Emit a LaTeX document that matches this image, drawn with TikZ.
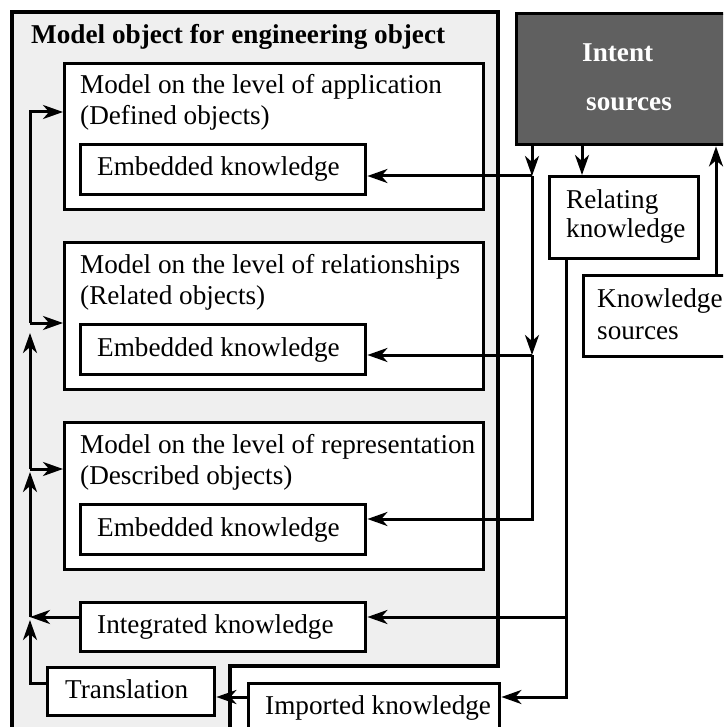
\documentclass[tikz,border=0pt]{standalone}
\usepackage{fontspec}
\setmainfont{Liberation Serif}
\usetikzlibrary{arrows.meta}
\definecolor{panelgray}{HTML}{EFEFEF}
\definecolor{sourcegray}{HTML}{606060}
\begin{document}
\begin{tikzpicture}[x=1pt,y=-1pt,
  box/.style={draw=black, line width=3.4pt, fill=white, inner sep=0pt, anchor=north west},
  txt/.style={anchor=base west, inner sep=0pt, font=\fontsize{27.2}{31}\selectfont},
  boldtxt/.style={txt, font=\fontsize{27.2}{31}\selectfont\bfseries},
  conn/.style={line width=3pt, line join=miter},
  arr/.style={conn, -{Stealth[length=20pt,width=14pt,inset=6pt]}}
]
\useasboundingbox (0,0) rectangle (723,727);
\clip (0,0) rectangle (723,727);

% outer panel holding the model levels
\draw[line width=3.4pt, fill=panelgray] (12,12) -| (498,666) -| (230,745) -- (12,745) -- cycle;
\node[boldtxt] (title) at (31,44) {Model object for engineering object};

% model levels
\node[box, minimum width=419pt, minimum height=146pt] (m1) at (63,62) {};
\node[box, minimum width=419pt, minimum height=147pt] (m2) at (63,241) {};
\node[box, minimum width=419pt, minimum height=147pt] (m3) at (63,421) {};
\node[txt] (m1a) at (80,94) {Model on the level of application};
\node[txt] (m1b) at (80,125) {(Defined objects)};
\node[txt] (m2a) at (80,273) {Model on the level of relationships};
\node[txt] (m2b) at (80,304) {(Related objects)};
\node[txt] (m3a) at (80,453) {Model on the level of representation};
\node[txt] (m3b) at (80,484) {(Described objects)};

% embedded knowledge boxes
\node[box, minimum width=285pt, minimum height=50pt] (ek1) at (79,143) {};
\node[box, minimum width=285pt, minimum height=50pt] (ek2) at (79,323) {};
\node[box, minimum width=285pt, minimum height=50pt] (ek3) at (79,503) {};
\node[txt] (ek1t) at (97,176) {Embedded knowledge};
\node[txt] (ek2t) at (97,356) {Embedded knowledge};
\node[txt] (ek3t) at (97,536) {Embedded knowledge};

% integration, translation, import
\node[box, minimum width=285pt, minimum height=49pt] (integ) at (79,601) {};
\node[txt] (integt) at (97,633) {Integrated knowledge};
\node[box, minimum width=167pt, minimum height=48pt] (trans) at (46,666) {};
\node[txt] (transt) at (65,698) {Translation};
\node[box, minimum width=251pt, minimum height=62pt] (imp) at (247,682) {};
\node[txt] (impt) at (265,714) {Imported knowledge};

% sources
\node[box, fill=sourcegray, minimum width=300pt, minimum height=131pt] (intent) at (515,12) {};
\node[boldtxt, text=white] (int1) at (582,62) {Intent};
\node[boldtxt, text=white] (int2) at (586,111) {sources};
\node[box, minimum width=149pt, minimum height=82pt] (relk) at (548,175) {};
\node[txt] (relt1) at (566,209) {Relating};
\node[txt] (relt2) at (566,237) {knowledge};
\node[box, minimum width=200pt, minimum height=81pt] (ksrc) at (582,274) {};
\node[txt] (ks1) at (597,307) {Knowledge};
\node[txt] (ks2) at (597,339) {sources};

% junction points of the connectors
\coordinate (r1) at (532,176);
\coordinate (r2) at (532,355);
\coordinate (r3) at (532,519);
\coordinate (k1) at (566,617);
\coordinate (k2) at (566,697);
\coordinate (j0) at (30,683);
\coordinate (j1) at (30,617);
\coordinate (j2) at (30,469);
\coordinate (j3) at (30,323);
\coordinate (j4) at (30,112);
\coordinate (p) at (582,0);
\coordinate (q) at (716,0);

% intent sources feeding the embedded knowledge
\draw[arr] (intent.south -| r1) -- (r1);
\draw[arr] (r1) -- (r2);
\draw[arr] (r1) -- (ek1.east |- r1);
\draw[arr] (r2) -- (ek2.east |- r2);
\draw[arr] (r2) -- (r3) -- (ek3.east |- r3);

% sources loop
\draw[arr] (intent.south -| p) -- (relk.north -| p);
\draw[arr] (ksrc.north -| q) -- (intent.south -| q);

% relating knowledge to integration and import
\draw[conn] (relk.south -| k1) -- (k1);
\draw[arr] (k1) -- (integ.east |- k1);
\draw[arr] (k1) -- (k2) -- (imp.east |- k2);
\draw[arr] (imp.west |- k2) -- (trans.east |- k2);

% translation and integration back into the model levels
\draw[arr] (trans.west |- j0) -- (j0) -- ([yshift=-3pt]j1);
\draw[arr] (integ.west |- j1) -- (j1);
\draw[arr] (j1) -- ([yshift=-3pt]j2);
\draw[arr] (j2) -- (m3.west |- j2);
\draw[arr] (j2) -- ([yshift=-10pt]j3);
\draw[arr] (j3) -- (m2.west |- j3);
\draw[arr] (j3) -- (j4) -- (m1.west |- j4);
\end{tikzpicture}
\end{document}
